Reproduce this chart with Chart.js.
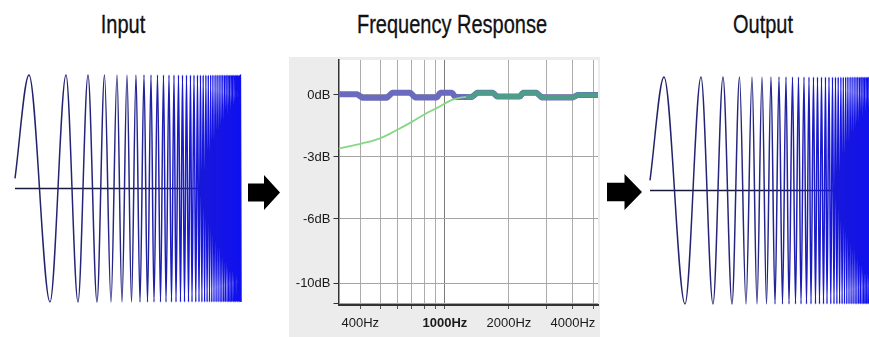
<!DOCTYPE html>
<html>
<head>
<meta charset="utf-8">
<script src="https://cdn.jsdelivr.net/npm/chart.js@4"></script>
<style>
  body { margin: 0; width: 869px; height: 337px; overflow: hidden; background: #fff; position: relative; }
  .title { position: absolute; top: 12px; font: 25px "Liberation Sans", Arial, sans-serif; line-height: 25px; color: #111; transform: translateX(-50%) scaleX(0.8); white-space: nowrap; -webkit-text-stroke: 0.3px #111; }
  .arrow { position: absolute; background: #000; clip-path: polygon(0 24%, 50% 24%, 50% 0, 100% 50%, 50% 100%, 50% 76%, 0 76%); }
  canvas { position: absolute; }
</style>
</head>
<body>
<div class="title" style="left:123px">Input</div>
<div class="title" style="left:452px">Frequency Response</div>
<div class="title" style="left:763px">Output</div>
<div class="arrow" style="left:248px; top:175px; width:32px; height:35px"></div>
<div class="arrow" style="left:607px; top:174px; width:35px; height:36px"></div>

<canvas id="inputChart" width="236" height="237" style="left:10px; top:70px"></canvas>
<canvas id="responseChart" width="311" height="280" style="left:289px; top:57px; background:#ececec"></canvas>
<canvas id="outputChart" width="236" height="237" style="left:645px; top:72px"></canvas>

<script>
// sweep: times of the start point and of each peak/trough
const chirpTimes = [0, 14, 35, 51, 63, 73, 82, 89.5, 96, 102, 107, 112, 116.5, 121, 125, 129, 132.5,
  136, 139, 142.5, 145.5, 148.5, 151, 154, 156.5, 159, 161, 163.5, 165.5, 167.5, 169.5, 171.5, 173.5,
  175.5, 177, 179, 180.8, 182.5, 184, 185.5, 186.9, 188.2, 189.6, 190.9, 192.1, 193.3, 194.5, 195.7,
  196.8, 197.9, 199, 200.1, 201.1, 202.1, 203.1, 204.1, 205.1, 206, 206.9, 207.8, 208.7, 209.6, 210.4,
  211.2, 212.1, 212.9, 213.7, 214.4, 215.2, 216, 216.7, 217.4, 218.2, 218.9, 219.6, 220.3, 220.9,
  221.6, 222.3, 222.9, 223.6, 224.2, 224.8, 225.4, 226];
const chirpStart = 0.09;
const chirpAmp = 1;
const chirpEnd = 226;

// frequency response
const freqFlat = [316, 387, 409, 535, 566, 687, 724, 919, 949, 1082, 1118, 1341, 1416, 1685, 1760, 2254, 2327, 2705, 2855, 4000, 4220, 5250];
const gainFlat = [0.03, 0.03, -0.13, -0.13, 0.11, 0.11, -0.12, -0.12, 0.1, 0.1, -0.1, -0.1, 0.1, 0.1, -0.08, -0.08, 0.1, 0.1, -0.12, -0.12, 0, 0];
const freqFiltered = [316, 409, 460, 508, 555, 604, 702, 804, 929, 1081, 1201, 1260, 1341, 1416, 1685, 1760, 2254, 2327, 2705, 2855, 4000, 4220, 5250];
const gainFiltered = [-2.6, -2.34, -2.21, -2.05, -1.86, -1.66, -1.29, -0.93, -0.6, -0.24, -0.12, -0.1, -0.1, 0.1, 0.1, -0.08, -0.08, 0.1, 0.1, -0.12, -0.12, 0, 0];
const mergeFreq = 1260; // from here the filtered curve sits on the flat one

const xTickValues = [400, 500, 600, 700, 800, 900, 1000, 2000, 3000, 4000, 5000];
const xTickLabels = { 400: '400Hz', 1000: '1000Hz', 2000: '2000Hz', 4000: '4000Hz' };
const yTickPos = [-10.1, -9.1, -6, -3, 0];
const yTickLabels = ['', '-10dB', '-6dB', '-3dB', '0dB'];

const labelFont = '"Liberation Sans", Arial, sans-serif';

function sweepGradient(context) {
    const { ctx, chartArea } = context.chart;
    if (!chartArea) return '#22226a';
    const g = ctx.createLinearGradient(chartArea.left, 0, chartArea.right, 0);
    g.addColorStop(0, '#222266');
    g.addColorStop(0.5, '#262688');
    g.addColorStop(0.8, '#1818d8');
    g.addColorStop(1, '#1010f0');
    return g;
}

function makeSweep(id) {
    const points = chirpTimes.map((t, i) => ({ x: t, y: i === 0 ? chirpStart : (i % 2 ? chirpAmp : -chirpAmp) }));
    return new Chart(document.getElementById(id), {
        type: 'line',
        data: {
            datasets: [{
                data: points,
                borderColor: sweepGradient,
                borderWidth: 1.5,
                cubicInterpolationMode: 'monotone',
                pointRadius: 0,
                clip: false,
                order: 0,
            }, {
                data: [{ x: 0, y: 0 }, { x: chirpEnd, y: 0 }],
                borderColor: '#1a1a3a',
                borderWidth: 1.6,
                pointRadius: 0,
                order: 1,
            }],
        },
        options: {
            responsive: false,
            animation: false,
            layout: { padding: 5 },
            plugins: { legend: { display: false }, tooltip: { enabled: false } },
            scales: {
                x: { type: 'linear', min: 0, max: chirpEnd, display: false },
                y: { min: -chirpAmp, max: chirpAmp, display: false },
            },
        },
    });
}

makeSweep('inputChart');
makeSweep('outputChart');

const whiteArea = {
    id: 'whiteArea',
    beforeDraw(chart) {
        const { ctx, chartArea } = chart;
        ctx.save();
        ctx.fillStyle = '#fff';
        ctx.fillRect(chartArea.left, chartArea.top, chartArea.right - chartArea.left, chartArea.bottom - chartArea.top);
        ctx.restore();
    },
};

const filtered = freqFiltered.map((f, i) => ({ x: f, y: gainFiltered[i] }));

new Chart(document.getElementById('responseChart'), {
    type: 'line',
    data: {
        datasets: [{
            data: freqFlat.map((f, i) => ({ x: f, y: gainFlat[i] })),
            borderColor: '#6a6abf',
            borderWidth: 6,
            pointRadius: 0,
            borderJoinStyle: 'bevel',
            order: 2,
        }, {
            data: filtered.filter(p => p.x <= mergeFreq),
            borderColor: '#86d886',
            borderWidth: 1.8,
            pointRadius: 0,
            cubicInterpolationMode: 'monotone',
            order: 1,
        }, {
            data: filtered.filter(p => p.x >= mergeFreq),
            borderColor: '#4f9c8a',
            borderWidth: 5,
            pointRadius: 0,
            borderJoinStyle: 'bevel',
            order: 0,
        }],
    },
    options: {
        responsive: false,
        animation: false,
        layout: { padding: { top: 3, right: 2, left: 0, bottom: 0 } },
        plugins: { legend: { display: false }, tooltip: { enabled: false } },
        scales: {
            x: {
                type: 'logarithmic',
                min: 316,
                max: 5250,
                afterBuildTicks: scale => { scale.ticks = xTickValues.map(v => ({ value: v })); },
                afterFit: scale => { scale.height = 32; scale.paddingLeft = 0; scale.paddingRight = 0; },
                border: { color: '#333', width: 2 },
                grid: {
                    color: ctx => ctx.tick && ctx.tick.value === 1000 ? '#7a7a7a' : '#ababab',
                    tickLength: 4,
                    tickColor: '#555',
                },
                ticks: {
                    autoSkip: false,
                    maxRotation: 0,
                    padding: 7,
                    color: '#1a1a1a',
                    font: ctx => ({ family: labelFont, size: 13, weight: ctx.tick && ctx.tick.value === 1000 ? 'bold' : 'normal' }),
                    callback: value => xTickLabels[value] || '',
                },
            },
            y: {
                min: -10.16,
                max: 1.69,
                afterBuildTicks: scale => { scale.ticks = yTickPos.map(v => ({ value: v })); },
                afterFit: scale => { scale.width = 49.5; scale.paddingTop = 0; scale.paddingBottom = 0; },
                border: { color: '#333', width: 1.5 },
                grid: { color: '#a5a5a5', tickLength: 5, tickColor: '#333' },
                ticks: {
                    padding: 3,
                    color: '#1a1a1a',
                    font: { family: labelFont, size: 13 },
                    callback: (value, i) => yTickLabels[i],
                },
            },
        },
    },
    plugins: [whiteArea],
});
</script>
</body>
</html>
